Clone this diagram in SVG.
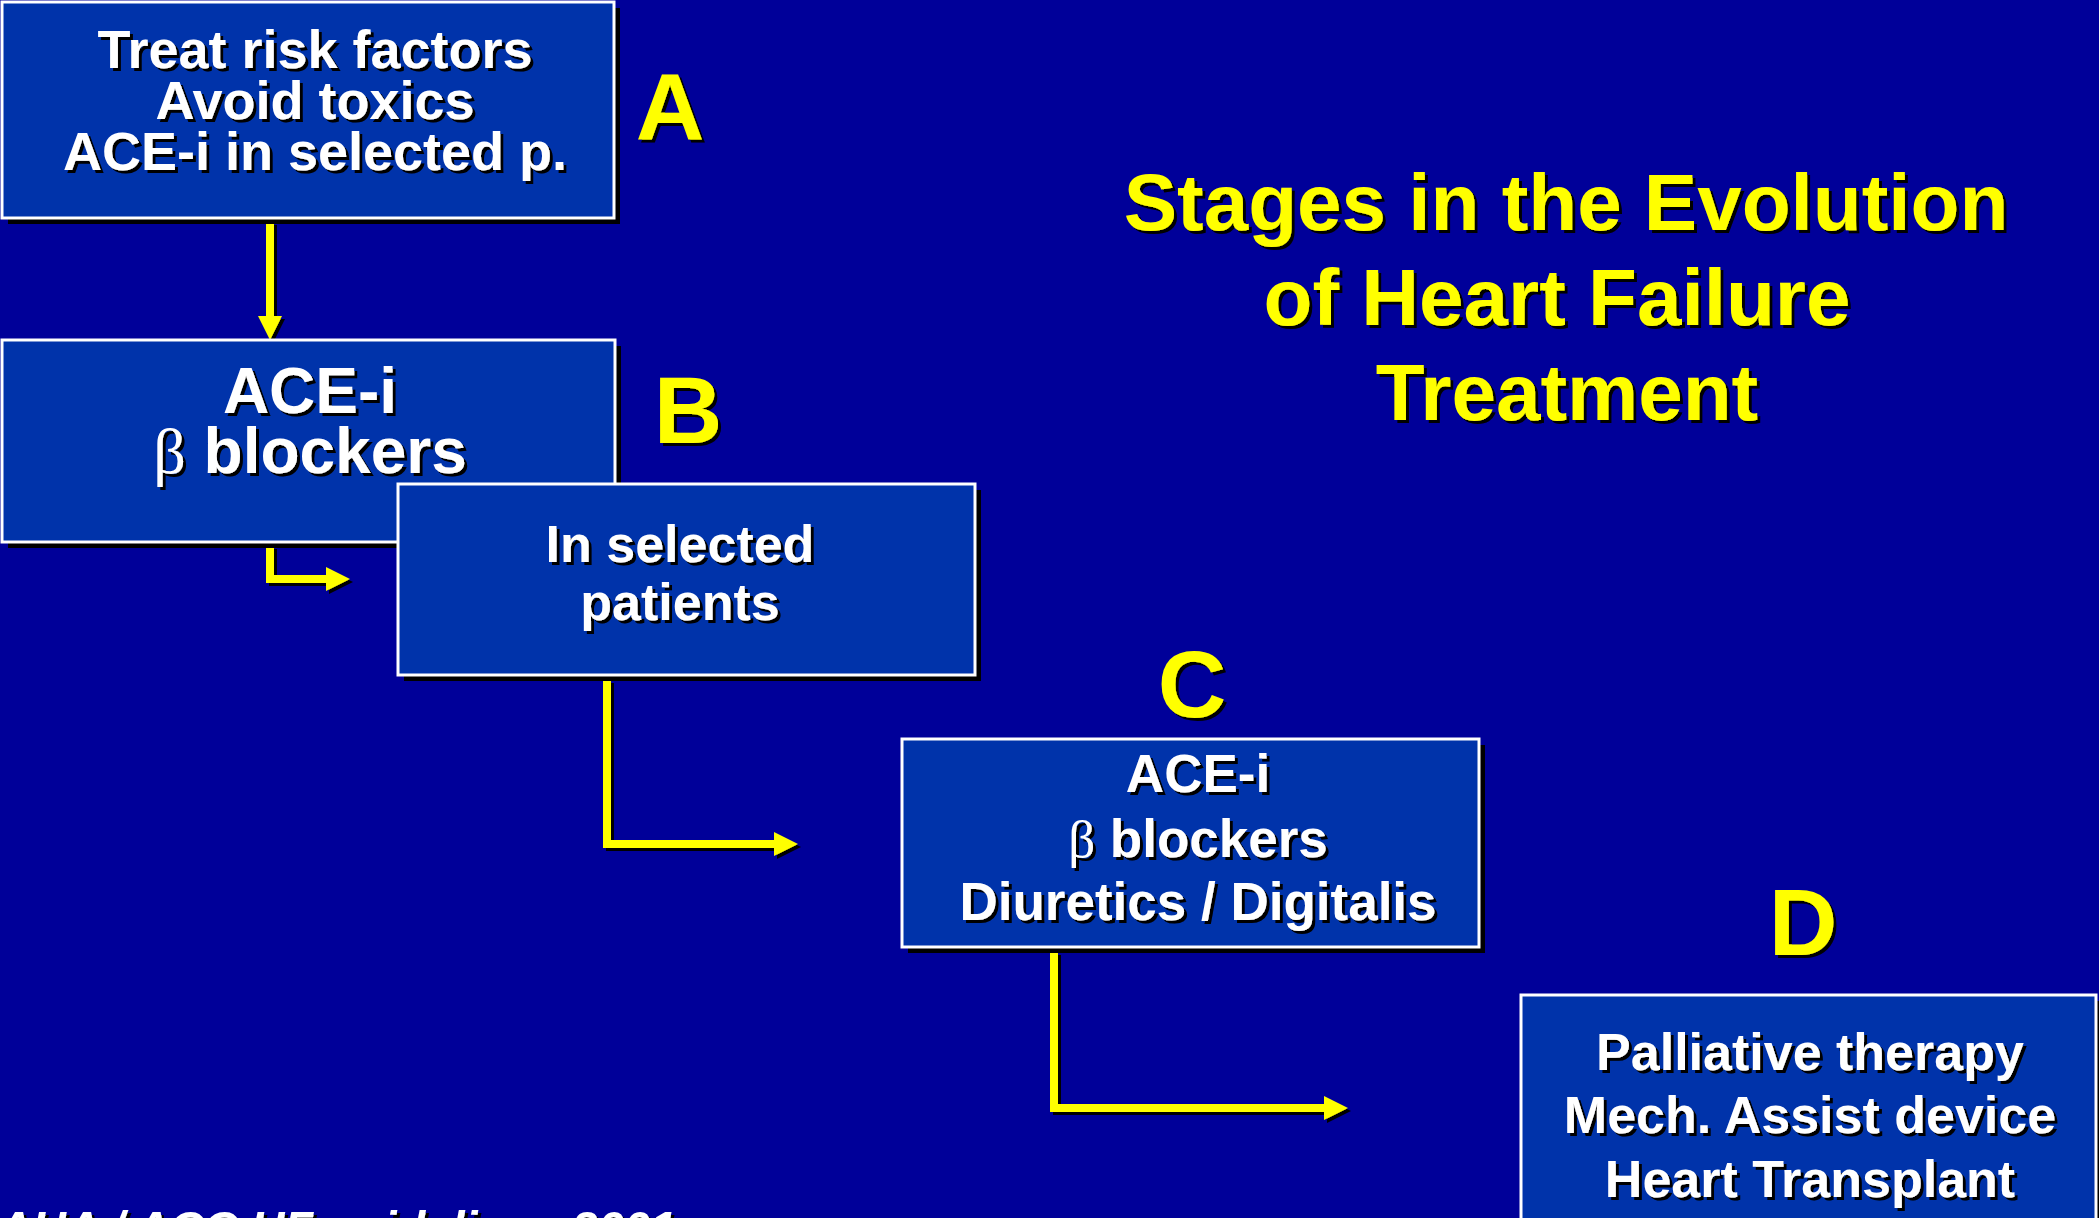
<svg xmlns="http://www.w3.org/2000/svg" width="2099" height="1218" viewBox="0 0 2099 1218">
<style>
.bg{fill:#000099}
.box{fill:#0033AA;stroke:#FFFFFF;stroke-width:3}
.shd{fill:#000000}
.t{font-family:"Liberation Sans",Arial,sans-serif;font-weight:bold;fill:#FFFFFF;text-anchor:middle;filter:url(#ts)}
.y{font-family:"Liberation Sans",Arial,sans-serif;font-weight:bold;fill:#FFFF00;text-anchor:middle;filter:url(#ts)}
.beta{font-family:"Liberation Serif",serif;font-weight:normal}
.conn{fill:none;stroke:#FFFF00;stroke-width:8;stroke-linejoin:miter;marker-end:url(#ah)}
</style>
<defs>
<filter id="ts" x="-10%" y="-10%" width="130%" height="140%">
<feDropShadow dx="3" dy="3" stdDeviation="0" flood-color="#000000" flood-opacity="1"/>
</filter>
<marker id="ah" markerUnits="userSpaceOnUse" viewBox="0 -12 24 24" refX="0" refY="0" markerWidth="24" markerHeight="24" orient="auto">
<path d="M0,-12 L24,0 L0,12 z" fill="#FFFF00"/>
</marker>
</defs>
<rect class="bg" x="0" y="0" width="2099" height="1218"/>

<g id="title">
<text class="y" font-size="80" x="1566" y="230">Stages in the Evolution</text>
<text class="y" font-size="80" x="1557" y="325">of Heart Failure</text>
<text class="y" font-size="80" x="1567" y="420">Treatment</text>
</g>

<g id="connectors" filter="url(#ts)">
<path class="conn" d="M270,222 L270,316"/>
<path class="conn" d="M270,546 L270,579 L326,579"/>
<path class="conn" d="M607,680 L607,844 L774,844"/>
<path class="conn" d="M1054,952 L1054,1108 L1324,1108"/>
</g>

<g id="stageA">
<rect class="shd" x="8" y="8" width="612" height="216"/>
<rect class="box" x="2" y="2" width="612" height="216"/>
<text class="t" font-size="54" x="315" y="68">Treat risk factors</text>
<text class="t" font-size="54" x="315" y="119">Avoid toxics</text>
<text class="t" font-size="54" x="315" y="170">ACE-i in selected p.</text>
<text class="y" font-size="95" x="670" y="140">A</text>
</g>

<g id="stageB">
<rect class="shd" x="8" y="346" width="613" height="202"/>
<rect class="box" x="2" y="340" width="613" height="202"/>
<text class="t" font-size="64" x="310" y="413">ACE-i</text>
<text class="t" font-size="64" x="310" y="473"><tspan class="beta">β</tspan> blockers</text>
<text class="y" font-size="95" x="688" y="443">B</text>
</g>

<g id="selected">
<rect class="shd" x="404" y="490" width="577" height="191"/>
<rect class="box" x="398" y="484" width="577" height="191"/>
<text class="t" font-size="52" x="680" y="562">In selected</text>
<text class="t" font-size="52" x="680" y="620">patients</text>
</g>

<g id="stageC">
<rect class="shd" x="908" y="745" width="577" height="208"/>
<rect class="box" x="902" y="739" width="577" height="208"/>
<text class="t" font-size="53" x="1198" y="792">ACE-i</text>
<text class="t" font-size="53" x="1198" y="857"><tspan class="beta">β</tspan> blockers</text>
<text class="t" font-size="53" x="1198" y="920">Diuretics / Digitalis</text>
<text class="y" font-size="95" x="1192" y="717">C</text>
</g>

<g id="stageD">
<rect class="shd" x="1527" y="1001" width="575" height="240"/>
<rect class="box" x="1521" y="995" width="575" height="240"/>
<text class="t" font-size="52" x="1810" y="1070">Palliative therapy</text>
<text class="t" font-size="52" x="1810" y="1133">Mech. Assist device</text>
<text class="t" font-size="52" x="1810" y="1197">Heart Transplant</text>
<text class="y" font-size="95" x="1803" y="955">D</text>
</g>

<g id="footer">
<text font-family="'Liberation Sans',Arial,sans-serif" font-weight="bold" font-style="italic" font-size="47" fill="#FFFFFF" x="-2" y="1244" filter="url(#ts)">AHA / ACC HF guidelines 2001</text>
</g>
</svg>
